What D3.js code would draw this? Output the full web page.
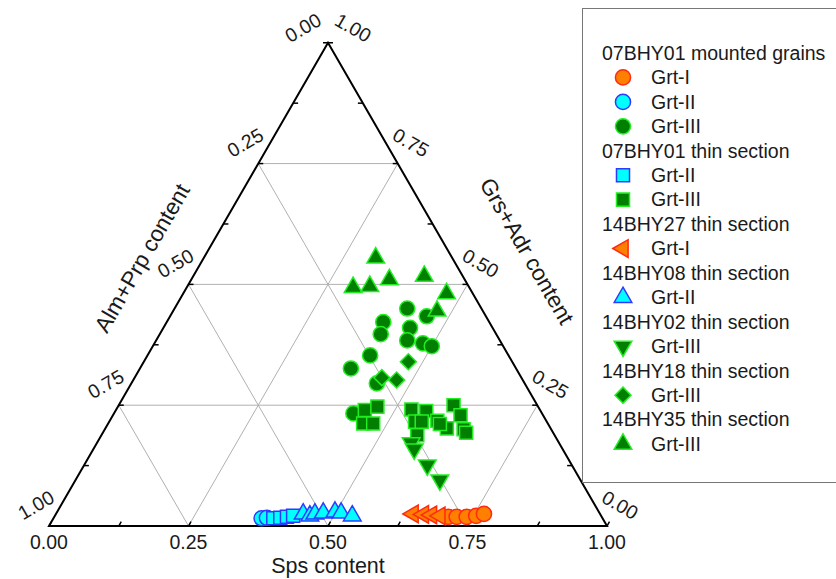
<!DOCTYPE html>
<html>
<head>
<meta charset="utf-8">
<script src="https://cdn.jsdelivr.net/npm/d3@7"></script>
<style>
html,body{margin:0;padding:0;background:#fff;}
svg{display:block;}
text{font-family:"Liberation Sans",Arial,sans-serif;fill:#1a1a1a;}
</style>
</head>
<body>
<svg id="chart" width="836" height="579"></svg>
<script>
// ---- data: each point is [Sps, Grs+Adr]; Alm+Prp = 1 - Sps - Grs ----
const mountedGrtI = [[0.706,0.019],[0.721,0.019],[0.739,0.019],[0.755,0.021],[0.767,0.025]];
const mountedGrtII = [[0.373,0.016],[0.382,0.017]];
const mountedGrtIII = [[0.417,0.450],[0.460,0.434],[0.388,0.422],[0.396,0.397],[0.442,0.410],[0.450,0.384],
  [0.481,0.378],[0.500,0.372],[0.399,0.353],[0.378,0.326],[0.440,0.295],[0.429,0.233]];
const thinGrtII = [[0.394,0.016],[0.406,0.017],[0.417,0.019],[0.427,0.021]];
const thinGrtIII = [[0.446,0.240],[0.465,0.247],[0.457,0.212],[0.475,0.212],[0.529,0.241],[0.557,0.238],
  [0.600,0.250],[0.623,0.229],[0.548,0.216],[0.560,0.216],[0.587,0.218],[0.612,0.202],[0.643,0.200],
  [0.651,0.193],[0.566,0.188],[0.595,0.211]];
const bhy27GrtI = [[0.640,0.025],[0.659,0.024],[0.674,0.023],[0.690,0.021]];
const bhy08GrtII = [[0.443,0.025],[0.457,0.021],[0.464,0.025],[0.478,0.027],[0.498,0.029],[0.510,0.027],[0.533,0.021]];
const bhy02GrtIII = [[0.563,0.172],[0.575,0.159],[0.615,0.126],[0.653,0.095]];
const bhy18GrtIII = [[0.474,0.340],[0.443,0.307],[0.472,0.302]];
const bhy35GrtIII = [[0.308,0.555],[0.298,0.494],[0.327,0.496],[0.355,0.510],[0.414,0.517],[0.472,0.481],[0.473,0.445]];

const tickValues = [0, 0.25, 0.5, 0.75, 1];
const tickLabels = ["0.00","0.25","0.50","0.75","1.00"];
const minorTicks = [0.125, 0.375, 0.625, 0.875];
const axisTitles = {bottom:"Sps content", left:"Alm+Prp content", right:"Grs+Adr content"};

const legendGroups = [
  {title:"07BHY01 mounted grains", items:[
    {label:"Grt-I", shape:"circle", col:"I", data:mountedGrtI},
    {label:"Grt-II", shape:"circle", col:"II", data:mountedGrtII},
    {label:"Grt-III", shape:"circle", col:"III", data:mountedGrtIII}]},
  {title:"07BHY01 thin section", items:[
    {label:"Grt-II", shape:"square", col:"II", data:thinGrtII},
    {label:"Grt-III", shape:"square", col:"III", data:thinGrtIII}]},
  {title:"14BHY27 thin section", items:[{label:"Grt-I", shape:"left", col:"I", data:bhy27GrtI}]},
  {title:"14BHY08 thin section", items:[{label:"Grt-II", shape:"up", col:"II", data:bhy08GrtII}]},
  {title:"14BHY02 thin section", items:[{label:"Grt-III", shape:"down", col:"III", data:bhy02GrtIII}]},
  {title:"14BHY18 thin section", items:[{label:"Grt-III", shape:"diamond", col:"III", data:bhy18GrtIII}]},
  {title:"14BHY35 thin section", items:[{label:"Grt-III", shape:"up", col:"III", data:bhy35GrtIII}]}
];

const colors = {
  I:{fill:"#FF7F00", stroke:"#FF2A10"},
  II:{fill:"#00FFFF", stroke:"#2E3BFF"},
  III:{fill:"#007F00", stroke:"#22EE22"}
};

// ---- geometry ----
const svg = d3.select("#chart");
const BL = {x:49, y:526}, BR = {x:607, y:526};
const side = BR.x - BL.x;
const H = side*Math.sqrt(3)/2;
const TOP = {x:(BL.x+BR.x)/2, y:BL.y - H};
const xS = d3.scaleLinear().domain([0,1]).range([0, side]);
const yS = d3.scaleLinear().domain([0,1]).range([BL.y, TOP.y]);
function P(s,g){ return [BL.x + xS(s) + xS(g)/2, yS(g)]; }

// grid
const grid = svg.append("g").attr("stroke","#b0b0b0").attr("stroke-width",1).attr("fill","none");
[0.25,0.5,0.75].forEach(v=>{
  const lines = [
    [P(0,v), P(1-v,v)],           // constant Grs
    [P(v,0), P(v,1-v)],           // constant Sps
    [P(1-v,0), P(0,1-v)]          // constant Alm
  ];
  lines.forEach(l=>grid.append("path").attr("d", d3.line()(l)));
});

// triangle frame
svg.append("path")
  .attr("d", d3.line()([P(0,0),P(1,0),P(0,1)]) + "Z")
  .attr("fill","none").attr("stroke","#000").attr("stroke-width",2).attr("stroke-linejoin","miter");

// ticks
const tg = svg.append("g").attr("stroke","#000").attr("stroke-width",1.5);
const tl = 5;
tickValues.concat(minorTicks).forEach(v=>{
  let p = P(v,0);
  tg.append("line").attr("x1",p[0]).attr("y1",p[1]).attr("x2",p[0]+tl*0.5).attr("y2",p[1]-tl*0.866);
  p = P(0,1-v);
  tg.append("line").attr("x1",p[0]).attr("y1",p[1]).attr("x2",p[0]+tl).attr("y2",p[1]);
  p = P(1-v,v);
  tg.append("line").attr("x1",p[0]).attr("y1",p[1]).attr("x2",p[0]-tl).attr("y2",p[1]);
});

// tick labels
const FS = 19.5, TFS = 21.5;
const lab = svg.append("g").style("font-size",FS+"px");
tickValues.forEach((v,i)=>{
  let p = P(v,0);
  lab.append("text").attr("x",p[0]).attr("y",p[1]+23).attr("text-anchor","middle").text(tickLabels[i]);
  p = P(0,1-v);
  let off = v===0 ? [-25,-15] : [-13,-21];
  lab.append("text").attr("transform",`translate(${p[0]+off[0]},${p[1]+off[1]}) rotate(-30)`)
    .attr("text-anchor","middle").attr("dy","0.35em").text(tickLabels[i]);
  p = P(1-v,v);
  off = v===1 ? [25,-15] : [13,-21];
  lab.append("text").attr("transform",`translate(${p[0]+off[0]},${p[1]+off[1]}) rotate(30)`)
    .attr("text-anchor","middle").attr("dy","0.35em").text(tickLabels[i]);
});

// axis titles
const tt = svg.append("g").style("font-size",TFS+"px");
tt.append("text").attr("x",(BL.x+BR.x)/2).attr("y",573).attr("text-anchor","middle").text(axisTitles.bottom);
tt.append("text").attr("transform","translate(142,258) rotate(-60)").attr("text-anchor","middle").attr("dy","0.35em").style("font-size","22.5px").text(axisTitles.left);
tt.append("text").attr("transform","translate(527,251) rotate(60)").attr("text-anchor","middle").attr("dy","0.35em").style("font-size","22.5px").text(axisTitles.right);

// symbols
function sym(shape){
  const m = {circle:[d3.symbolCircle,180,0], square:[d3.symbolSquare,170,0], up:[d3.symbolTriangle,135,0],
    down:[d3.symbolTriangle,135,180], left:[d3.symbolTriangle,135,-90], diamond:[d3.symbolSquare,128,45]};
  const s = m[shape];
  return {d:d3.symbol().type(s[0]).size(s[1])(), rot:s[2]};
}
function drawMark(g, x, y, shape, col){
  const s = sym(shape);
  g.append("path").attr("d",s.d)
    .attr("transform",`translate(${x},${y}) rotate(${s.rot})`)
    .attr("fill",colors[col].fill).attr("stroke",colors[col].stroke).attr("stroke-width",1.5);
}
const marks = svg.append("g");
legendGroups.forEach(gr=>gr.items.forEach(it=>{
  it.data.forEach(d=>{ const p = P(d[0],d[1]); drawMark(marks,p[0],p[1],it.shape,it.col); });
}));

// legend
svg.append("rect").attr("x",582.5).attr("y",8.5).attr("width",270).attr("height",474)
  .attr("fill","none").attr("stroke","#777").attr("stroke-width",1);
const lg = svg.append("g").style("font-size",FS+"px");
let row = 0;
const rowY = r => 53 + r*24.44;
legendGroups.forEach(gr=>{
  lg.append("text").attr("x",602).attr("y",rowY(row)).attr("dy","0.35em").text(gr.title);
  row++;
  gr.items.forEach(it=>{
    drawMark(lg, 623, rowY(row), it.shape, it.col);
    lg.append("text").attr("x",651).attr("y",rowY(row)).attr("dy","0.35em").text(it.label);
    row++;
  });
});
</script>
</body>
</html>
